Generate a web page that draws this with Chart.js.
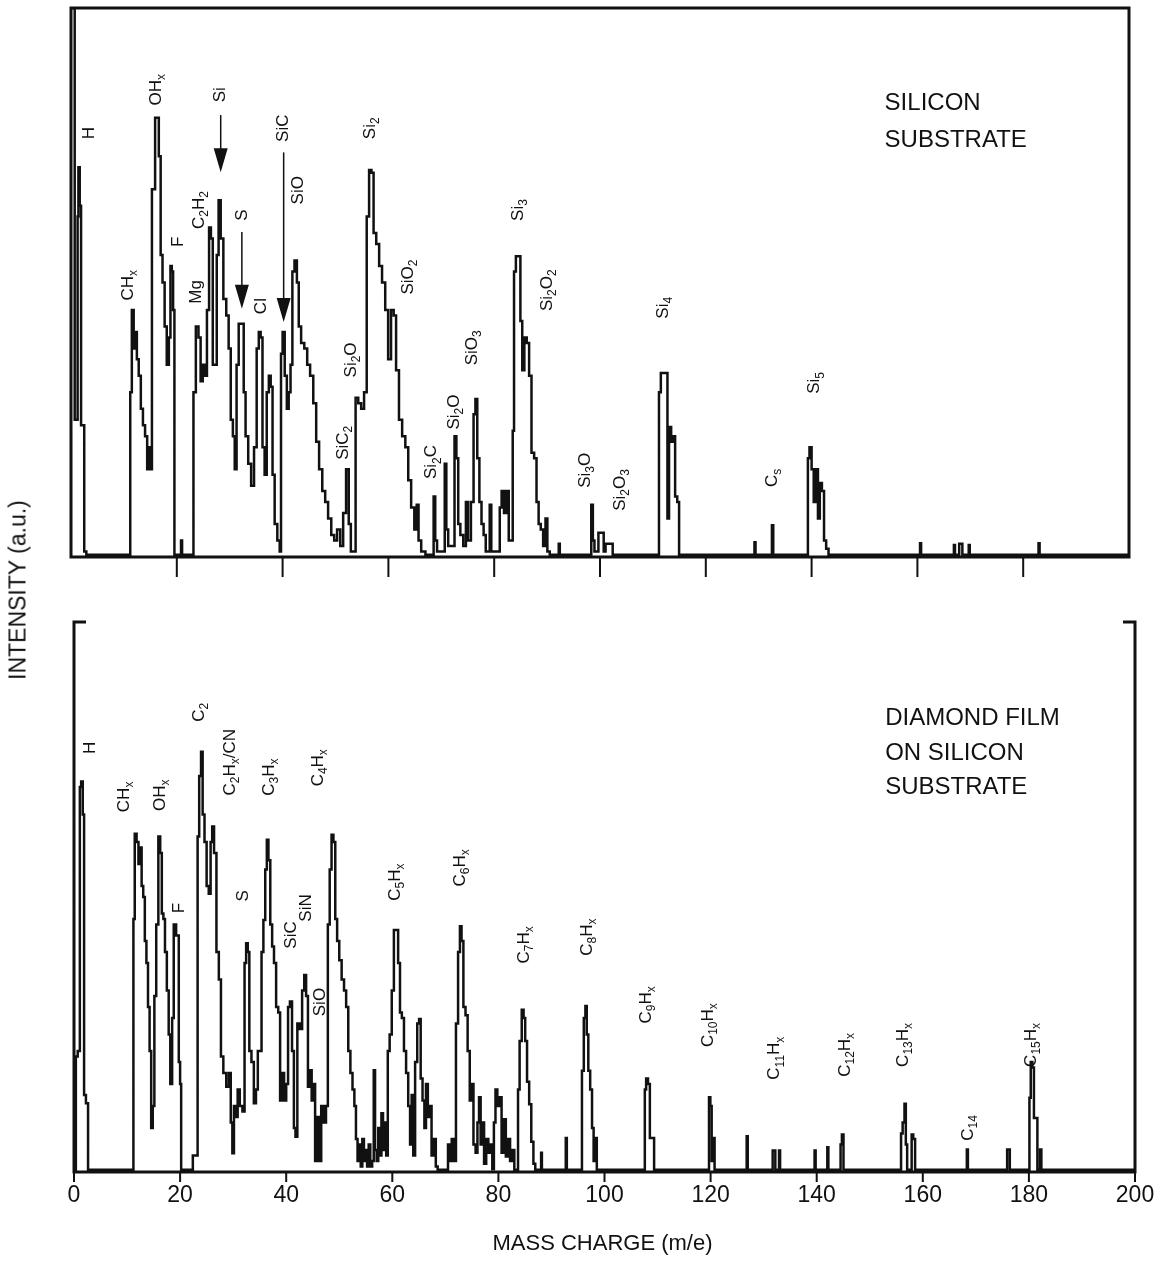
<!DOCTYPE html>
<html>
<head>
<meta charset="utf-8">
<script src="https://cdn.jsdelivr.net/npm/chart.js@4.4.1/dist/chart.umd.min.js"></script>
<style>
  body { margin: 0; background: #fff; width: 1157px; height: 1261px; position: relative; overflow: hidden; }
  canvas { position: absolute; left: 0; }
  #topChart { top: 0; }
  #botChart { top: 600px; }
  #ytitle {
    position: absolute; left: 18px; top: 590px; white-space: nowrap;
    font: 23px "Liberation Sans", Arial, sans-serif; color: #111;
    transform: translate(-50%, -50%) rotate(-90deg);
  }
</style>
</head>
<body>
<canvas id="topChart" width="1157" height="600"></canvas>
<canvas id="botChart" width="1157" height="661"></canvas>
<div id="ytitle">INTENSITY (a.u.)</div>
<script>
// mass (m/e), intensity (a.u., 0-100 of panel height)
const topSpectrum = [
  [0, 100], [0.6, 100], [0.8, 25], [1.2, 25], [1.3, 62], [1.5, 71], [1.8, 64], [2.0, 24], [2.4, 24], [2.6, 1], [3.2, 0.4],
  [11.1, 0.4], [11.3, 30], [11.7, 45], [12.0, 38], [12.3, 41], [12.6, 36], [13.0, 33], [13.4, 27], [13.8, 24], [14.2, 22], [14.6, 16], [14.9, 20], [15.2, 16],
  [15.4, 67], [15.8, 67], [16.0, 80], [16.4, 80], [16.8, 73], [17.1, 55], [17.5, 50], [17.9, 42], [18.3, 35], [18.7, 40], [18.9, 53], [19.2, 52], [19.4, 45], [19.7, 0.4],
  [20.7, 0.4], [20.9, 3], [21.1, 0.4],
  [23.0, 0.4], [23.3, 30], [23.9, 42], [24.3, 40], [24.7, 32], [25.1, 35], [25.5, 33], [25.9, 45], [26.3, 60], [26.6, 58], [27.0, 35], [27.4, 35], [27.7, 55], [28.1, 65], [28.5, 58],
  [29.1, 47], [29.6, 44], [30.0, 38], [30.4, 25], [30.8, 22], [31.1, 16], [31.5, 35], [31.9, 42.5], [32.5, 42.5], [32.8, 30], [33.2, 22], [33.8, 17], [34.3, 13], [34.9, 20],
  [35.3, 38], [35.7, 41], [36.0, 40], [36.4, 20], [36.8, 15], [37.2, 30], [37.6, 33], [37.9, 31], [38.3, 15], [38.7, 6], [39.3, 3], [39.6, 1], [39.8, 37], [40.2, 41],
  [40.6, 33], [41.0, 27], [41.3, 30], [41.7, 35], [42.0, 52], [42.5, 54], [42.9, 50], [43.2, 42], [43.8, 39], [44.4, 38], [44.9, 35], [45.5, 33], [46.1, 28], [46.6, 21],
  [47.2, 16], [47.8, 12], [48.3, 10], [48.9, 7], [49.5, 4], [50.0, 3], [50.6, 5], [51.2, 2], [51.7, 8], [52.3, 16], [52.7, 6], [53.1, 1], [53.6, 1], [54.0, 29], [54.6, 28],
  [55.1, 27], [55.7, 30], [56.1, 62], [56.6, 70.5], [57.0, 70], [57.4, 59], [58.0, 57], [58.5, 53], [59.1, 50], [59.7, 45], [60.2, 36], [60.8, 45], [61.2, 44], [61.7, 34],
  [62.3, 25], [62.9, 22], [63.5, 20], [64.0, 14], [64.6, 9], [65.2, 5], [65.5, 9.5], [65.9, 3], [66.5, 1], [67.5, 0.4],
  [68.4, 0.4], [68.7, 11], [69.0, 3], [69.4, 1], [70.5, 1], [70.8, 17], [71.1, 5], [71.5, 2], [72.3, 2], [72.7, 22], [73.0, 18], [73.4, 6], [73.8, 4], [74.5, 2], [74.8, 10],
  [75.3, 3], [75.9, 10], [76.3, 26], [76.6, 28.8], [77.0, 18], [77.4, 10], [77.8, 6], [78.2, 4], [78.6, 1], [79.0, 1], [79.3, 9.5], [79.6, 1], [80.9, 1], [81.2, 9],
  [81.6, 12], [82.1, 8], [82.5, 12], [83.0, 3], [83.4, 3], [83.6, 23], [83.9, 52], [84.3, 54.8], [84.8, 54.8], [85.1, 43], [85.5, 34], [85.9, 40], [86.4, 39], [86.8, 33],
  [87.3, 19], [87.8, 18], [88.2, 10], [88.6, 6], [89.0, 5], [89.5, 2], [89.9, 7], [90.2, 1], [90.8, 0.4],
  [92.1, 0.4], [92.3, 2.4], [92.5, 0.4],
  [98.2, 0.4], [98.5, 9.5], [98.8, 3], [99.1, 1], [99.6, 1], [99.8, 4.4], [100.5, 4.4], [100.9, 1], [101.2, 2.4], [102.3, 2.4], [102.5, 0.4],
  [111.0, 0.4], [111.3, 30], [111.7, 33.5], [112.6, 33.5], [112.9, 7], [113.2, 23.7], [113.7, 21], [114.0, 22], [114.4, 11], [114.8, 10], [115.1, 0.4],
  [129.1, 0.4], [129.3, 2.7], [129.5, 0.4],
  [132.4, 0.4], [132.6, 5.8], [132.9, 0.4],
  [139.2, 0.4], [139.4, 18], [139.8, 20], [140.2, 16], [140.6, 10], [141.0, 16], [141.4, 7], [141.7, 13.5], [142.2, 12], [142.5, 3], [143.0, 1.5], [143.4, 0.4],
  [160.4, 0.4], [160.6, 2.5], [160.8, 0.4],
  [166.8, 0.4], [167.0, 2.2], [167.2, 0.4], [167.8, 0.4], [168.0, 2.4], [168.4, 2.4], [168.6, 0.4], [169.6, 0.4], [169.8, 2.2], [170.0, 0.4],
  [182.8, 0.4], [183.0, 2.5], [183.2, 0.4], [200, 0.4]
];

const botSpectrum = [
  [0, 0.4], [0.3, 0.4], [0.4, 21], [1.0, 22], [1.2, 70], [1.5, 71], [1.8, 65], [2.0, 14], [2.5, 12.5], [2.8, 0.4],
  [11.1, 0.4], [11.3, 46], [11.6, 61.5], [12.0, 60], [12.3, 56], [12.6, 59], [12.9, 52], [13.2, 50], [13.5, 42], [13.8, 38], [14.1, 30], [14.4, 22], [14.7, 8], [15.0, 12],
  [15.3, 32], [15.7, 45], [16.1, 61], [16.4, 58], [16.7, 47], [17.0, 46], [17.3, 40], [17.7, 33], [18.0, 25], [18.3, 16], [18.7, 28], [18.9, 45], [19.6, 43], [19.9, 20],
  [20.1, 16], [20.3, 0.4],
  [22.3, 0.4], [22.5, 3], [23.2, 3], [23.4, 61], [23.8, 72], [24.1, 76.4], [24.4, 65], [24.8, 60], [25.2, 52], [25.6, 50.6], [25.9, 60], [26.2, 62.8], [26.6, 58], [27.1, 40],
  [27.5, 35], [27.9, 21], [28.4, 18], [29.0, 15.5], [29.4, 18], [29.7, 9], [30.0, 3.4], [30.3, 12], [30.7, 10], [31.0, 15], [31.5, 12], [32.0, 11], [32.3, 38], [32.6, 41.6],
  [32.9, 40], [33.2, 22], [33.7, 20], [34.1, 12.5], [34.5, 15], [34.8, 22], [35.2, 22], [35.5, 40], [35.9, 45.8], [36.2, 55], [36.5, 60.4], [36.8, 56.7], [37.2, 45],
  [37.5, 41], [37.9, 38], [38.3, 30], [38.7, 29], [39.0, 13], [39.4, 18], [39.8, 13], [40.2, 16], [40.5, 30], [40.9, 31], [41.3, 22], [41.6, 8], [41.9, 6.4], [42.3, 27],
  [42.8, 26], [43.2, 33], [43.6, 35.8], [43.9, 32], [44.3, 15.5], [44.6, 18.5], [45.0, 13], [45.3, 16], [45.6, 2], [46.0, 10], [46.4, 2], [46.8, 12], [47.3, 9], [47.7, 12],
  [48.0, 45], [48.4, 55], [48.7, 61.3], [49.1, 60], [49.4, 46], [49.8, 42], [50.2, 38.5], [50.7, 35], [51.1, 33], [51.5, 30], [51.9, 22], [52.3, 18], [52.7, 15], [53.0, 12],
  [53.3, 6], [53.6, 2], [53.9, 5], [54.2, 1], [54.5, 6], [54.8, 2], [55.1, 4], [55.4, 1], [55.7, 5], [56.0, 1], [56.4, 2], [56.6, 18.5], [56.9, 4], [57.2, 2], [57.5, 8],
  [57.8, 3], [58.1, 10.7], [58.4, 4], [58.7, 9], [59.0, 3], [59.3, 22], [59.7, 25], [60.1, 33], [60.5, 44], [60.9, 44], [61.3, 38], [61.6, 29], [62.0, 28], [62.4, 22],
  [62.8, 18], [63.2, 12], [63.5, 5], [63.8, 14], [64.1, 3], [64.5, 20], [64.9, 27], [65.2, 27.8], [65.5, 17], [65.9, 13], [66.2, 8], [66.5, 16], [66.9, 10], [67.2, 12],
  [67.6, 3], [68.0, 6], [68.4, 1], [68.7, 0.4],
  [70.4, 0.4], [70.6, 5], [71.0, 2], [71.4, 6], [71.8, 2], [72.2, 27], [72.6, 40], [72.9, 44.7], [73.2, 42], [73.6, 30], [74.0, 28.5], [74.4, 22], [74.8, 13], [75.1, 16],
  [75.5, 5], [75.9, 3.5], [76.2, 9], [76.5, 13.6], [76.8, 5], [77.1, 9], [77.5, 1.5], [77.9, 6], [78.3, 3.5], [78.7, 5], [79.0, 0.5], [79.3, 9], [79.6, 15], [80.0, 12],
  [80.4, 13.6], [80.8, 3.5], [81.2, 9.6], [81.6, 2.8], [82.0, 6], [82.4, 2], [82.8, 4], [83.2, 0.4],
  [83.6, 0.4], [83.8, 15], [84.2, 23.8], [84.6, 29.5], [84.9, 28], [85.2, 23.8], [85.6, 16.4], [86.0, 12.3], [86.4, 5.5], [86.8, 1.5], [87.1, 0.4],
  [88.0, 0.4], [88.1, 3.5], [88.3, 0.4],
  [92.6, 0.4], [92.8, 6.2], [93.0, 0.4],
  [95.6, 0.4], [95.9, 18.4], [96.3, 28], [96.5, 30.2], [96.8, 25], [97.1, 18.4], [97.5, 15], [97.8, 8], [98.1, 2], [98.4, 6.2], [98.7, 0.4],
  [107.5, 0.4], [107.7, 15], [108.0, 17], [108.4, 16], [108.7, 6.2], [109.2, 6.2], [109.5, 0.4],
  [119.6, 0.4], [119.8, 13.6], [120.1, 12], [120.3, 2], [120.6, 6.2], [120.9, 0.4],
  [126.7, 0.4], [126.9, 6.5], [127.1, 0.4],
  [131.6, 0.4], [131.8, 3.9], [132.1, 3.9], [132.3, 0.4], [132.8, 0.4], [133.0, 3.9], [133.2, 0.4],
  [139.5, 0.4], [139.7, 3.9], [139.9, 0.4],
  [141.9, 0.4], [142.1, 4.5], [142.3, 0.4],
  [144.4, 0.4], [144.6, 5], [144.9, 6.8], [145.2, 0.4],
  [155.8, 0.4], [156.0, 7], [156.4, 9], [156.7, 12.4], [156.9, 5], [157.2, 0.4], [157.8, 0.4], [158.0, 6.8], [158.4, 6], [158.7, 0.4],
  [168.2, 0.4], [168.4, 4.1], [168.6, 0.4],
  [175.8, 0.4], [176.0, 4.1], [176.3, 4.1], [176.5, 0.4],
  [180.0, 0.4], [180.2, 13.5], [180.5, 20], [180.8, 19], [181.1, 9.8], [181.5, 9.8], [181.7, 0.4], [182.0, 0.4], [182.2, 4.1], [182.5, 0.4],
  [200, 0.4]
];

// peak labels: text ("_" starts a subscript), mass, intensity of label centre
const topLabels = [
  ["H", 3.5, 77.2], ["CH_x", 10.9, 49.5], ["OH_x", 16.2, 85.1], ["F", 20.2, 57.4], ["Mg", 23.6, 48.3],
  ["C_2H_2", 24.3, 63.2], ["Si", 28.3, 84.2], ["S", 32.3, 62.3], ["Cl", 36.0, 45.7], ["SiC", 40.2, 78.1],
  ["SiO", 43.0, 66.8], ["SiC_2", 51.4, 20.8], ["Si_2O", 52.9, 35.9], ["Si_2", 56.5, 78.1], ["SiO_2", 63.7, 51.0],
  ["Si_2C", 68.2, 17.3], ["Si_2O", 72.5, 26.4], ["SiO_3", 75.9, 38.1], ["Si_3", 84.6, 63.2], ["Si_2O_2", 90.1, 48.6],
  ["Si_3O", 97.3, 15.8], ["Si_2O_3", 103.9, 12.2], ["Si_4", 111.9, 45.4], ["C_s", 132.5, 14.4], ["Si_5", 140.6, 31.7]
];
// arrows: mass, start intensity, tip intensity
const topArrows = [[28.3, 80.5, 70.1], [32.3, 59.2, 45.2], [40.2, 73.7, 42.8]];

const botLabels = [
  ["H", 3.0, 77.1], ["CH_x", 9.4, 68.2], ["OH_x", 16.2, 68.5], ["F", 19.8, 48.0], ["C_2", 23.6, 83.6],
  ["C_2H_x/CN", 29.4, 74.5], ["S", 31.9, 50.2], ["C_3H_x", 36.8, 71.8], ["SiC", 40.9, 43.1], ["SiN", 43.7, 48.0],
  ["C_4H_x", 46.0, 73.5], ["SiO", 46.4, 30.9], ["C_5H_x", 60.5, 52.7], ["C_6H_x", 72.9, 55.3], ["C_7H_x", 84.8, 41.3],
  ["C_8H_x", 96.7, 42.7], ["C_9H_x", 107.8, 30.4], ["C_10H_x", 119.5, 26.7], ["C_11H_x", 132.1, 20.7],
  ["C_12H_x", 145.3, 21.3], ["C_13H_x", 156.3, 23.1], ["C_14", 168.5, 8.0], ["C_15H_x", 180.4, 23.1]
];

const topTitle = ["SILICON", "SUBSTRATE"];
const botTitle = ["DIAMOND FILM", "ON SILICON", "SUBSTRATE"];
const topTickValues = [20, 40, 60, 80, 100, 120, 140, 160, 180];
const botTickValues = [0, 20, 40, 60, 80, 100, 120, 140, 160, 180, 200];

const FONT = '"Liberation Sans", Arial, sans-serif';

function drawFormula(ctx, text, px, py, size) {
  const parts = [];
  let i = 0;
  while (i < text.length) {
    let s = '';
    if (text[i] === '_') {
      i++;
      while (i < text.length && /[0-9xs]/.test(text[i])) s += text[i++];
      parts.push({ t: s, sub: true });
    } else {
      while (i < text.length && text[i] !== '_') s += text[i++];
      parts.push({ t: s, sub: false });
    }
  }
  const subSize = Math.round(size * 0.7);
  let total = 0;
  parts.forEach(p => {
    ctx.font = (p.sub ? subSize : size) + 'px ' + FONT;
    p.w = ctx.measureText(p.t).width;
    total += p.w;
  });
  ctx.save();
  ctx.translate(px, py);
  ctx.rotate(-Math.PI / 2);
  ctx.textBaseline = 'middle';
  ctx.textAlign = 'left';
  let cx = -total / 2;
  parts.forEach(p => {
    ctx.font = (p.sub ? subSize : size) + 'px ' + FONT;
    ctx.fillText(p.t, cx, p.sub ? size * 0.32 : 0);
    cx += p.w;
  });
  ctx.restore();
}

const panelPlugin = {
  id: 'panel',
  afterDatasetsDraw(chart, args, o) {
    const { ctx, chartArea: a, scales: { x, y } } = chart;
    ctx.save();
    ctx.strokeStyle = '#111';
    ctx.fillStyle = '#111';
    ctx.lineWidth = 3;
    ctx.beginPath();
    if (o.fullBox) {
      ctx.rect(a.left, a.top, a.right - a.left, a.bottom - a.top);
    } else {
      ctx.moveTo(a.left + 12, a.top); ctx.lineTo(a.left, a.top); ctx.lineTo(a.left, a.bottom);
      ctx.lineTo(a.right, a.bottom); ctx.lineTo(a.right, a.top); ctx.lineTo(a.right - 12, a.top);
    }
    ctx.stroke();

    ctx.lineWidth = 2;
    o.ticks.forEach(v => {
      const px = x.getPixelForValue(v);
      ctx.beginPath(); ctx.moveTo(px, a.bottom); ctx.lineTo(px, a.bottom + o.tickLen); ctx.stroke();
    });
    if (o.tickLabels) {
      ctx.font = '23px ' + FONT;
      ctx.textAlign = 'center'; ctx.textBaseline = 'middle';
      o.ticks.forEach(v => ctx.fillText(String(v), x.getPixelForValue(v), a.bottom + 24));
      ctx.font = '22px ' + FONT;
      ctx.fillText('MASS CHARGE (m/e)', (a.left + a.right) / 2 - 2, a.bottom + 72);
    }

    o.labels.forEach(([t, m, v]) => drawFormula(ctx, t, x.getPixelForValue(m), y.getPixelForValue(v), 17));

    (o.arrows || []).forEach(([m, v0, v1]) => {
      const px = x.getPixelForValue(m), p0 = y.getPixelForValue(v0), p1 = y.getPixelForValue(v1);
      ctx.lineWidth = 1.5;
      ctx.beginPath(); ctx.moveTo(px, p0); ctx.lineTo(px, p1 - 20); ctx.stroke();
      ctx.beginPath(); ctx.moveTo(px - 7, p1 - 24); ctx.lineTo(px + 7, p1 - 24); ctx.lineTo(px, p1); ctx.closePath(); ctx.fill();
    });

    ctx.font = '24px ' + FONT;
    ctx.textAlign = 'left'; ctx.textBaseline = 'middle';
    o.title.forEach((line, k) => ctx.fillText(line, x.getPixelForValue(o.titleAt[0]), y.getPixelForValue(o.titleAt[1]) + k * o.titleStep));
    ctx.restore();
  }
};

function makePanel(id, spectrum, pad, opts) {
  return new Chart(document.getElementById(id), {
    type: 'line',
    data: {
      datasets: [{
        data: spectrum.map(([m, v]) => ({ x: m, y: v })),
        borderColor: '#111',
        borderWidth: 2.5,
        pointRadius: 0,
        stepped: 'middle',
        fill: false
      }]
    },
    options: {
      responsive: false,
      animation: false,
      layout: { padding: pad },
      plugins: { legend: { display: false }, tooltip: { enabled: false }, panel: opts },
      scales: {
        x: { type: 'linear', min: 0, max: 200, display: false },
        y: { min: 0, max: 100, display: false }
      }
    },
    plugins: [panelPlugin]
  });
}

makePanel('topChart', topSpectrum, { left: 71, right: 28, top: 8, bottom: 43 }, {
  fullBox: true, ticks: topTickValues, tickLen: 20, tickLabels: false,
  labels: topLabels, arrows: topArrows, title: topTitle, titleAt: [153.8, 82.7], titleStep: 37
});
makePanel('botChart', botSpectrum, { left: 74, right: 22, top: 22, bottom: 89 }, {
  fullBox: false, ticks: botTickValues, tickLen: 10, tickLabels: true,
  labels: botLabels, title: botTitle, titleAt: [152.9, 82.4], titleStep: 34.5
});
</script>
</body>
</html>
